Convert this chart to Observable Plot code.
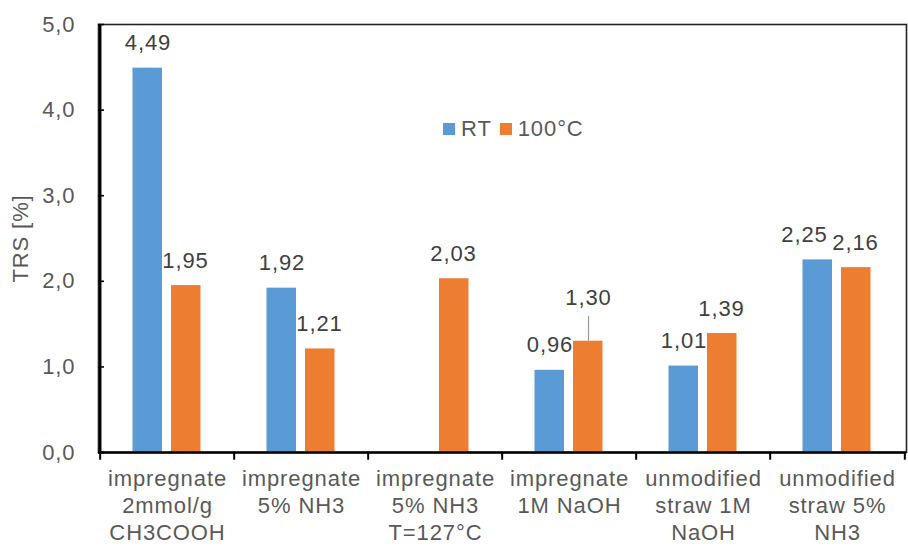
<!DOCTYPE html>
<html>
<head>
<meta charset="utf-8">
<script src="https://cdn.jsdelivr.net/npm/d3@7"></script>
<script src="https://cdn.jsdelivr.net/npm/@observablehq/plot@0.6"></script>
<style>
  html, body { margin: 0; padding: 0; background: #fff; }
  #wrap { position: relative; width: 908px; height: 547px; font-family: "Liberation Sans", Arial, sans-serif; }
  #wrap svg text { letter-spacing: 0.9px; }
  #legend { position: absolute; left: 443px; top: 116px; display: flex; align-items: center; font-size: 22px; color: #595959; letter-spacing: 0.9px; }
  #legend .sw { display: inline-block; width: 12px; height: 12px; margin-right: 6px; }
  #legend .item { display: flex; align-items: center; margin-right: 8px; }
</style>
</head>
<body>
<div id="wrap"></div>
<script>
const categories = [
  "impregnate\n2mmol/g\nCH3COOH",
  "impregnate\n5% NH3",
  "impregnate\n5% NH3\nT=127°C",
  "impregnate\n1M NaOH",
  "unmodified\nstraw 1M\nNaOH",
  "unmodified\nstraw 5%\nNH3"
];
const series = ["RT", "100°C"];
const rtValues = [4.49, 1.92, null, 0.96, 1.01, 2.25];
const hotValues = [1.95, 1.21, 2.03, 1.30, 1.39, 2.16];
const yTicks = [0, 1, 2, 3, 4, 5];
const colors = ["#5B9BD5", "#ED7D31"];

const W = 908, H = 547, mL = 98, mR = 2, mT = 24, mB = 95;
const bw = (W - mL - mR) / categories.length;

const rt = categories.map((c, i) => ({cat: c, series: series[0], value: rtValues[i]})).filter(d => d.value != null);
const hot = categories.map((c, i) => ({cat: c, series: series[1], value: hotValues[i]})).filter(d => d.value != null);
const fmt = v => v.toFixed(2).replace(".", ",");
const leaderCat = categories[3];
const shiftCat = categories[5];
const font = "'Liberation Sans', Arial, sans-serif";
const lab = {fontSize: 22, fill: "#404040", text: d => fmt(d.value), x: "cat", y: "value"};

const chart = Plot.plot({
  width: W, height: H,
  marginLeft: mL, marginRight: mR, marginTop: mT, marginBottom: mB,
  style: {fontFamily: font, background: "#fff"},
  x: {domain: categories, padding: 0, axis: null},
  y: {domain: [0, 5], axis: null},
  marks: [
    Plot.frame({stroke: "#222", strokeWidth: 1.6}),
    Plot.barY(rt, {x: "cat", y: "value", fill: colors[0], insetLeft: 32.5, insetRight: 72}),
    Plot.barY(hot, {x: "cat", y: "value", fill: colors[1], insetLeft: 71, insetRight: 33.5}),
    Plot.text(rt.filter(d => d.cat !== shiftCat), {...lab, dx: -19.5, dy: -25}),
    Plot.text(rt.filter(d => d.cat === shiftCat), {...lab, dx: -33, dy: -25}),
    Plot.text(hot.filter(d => d.cat !== leaderCat), {...lab, dx: 18, dy: -25}),
    Plot.text(hot.filter(d => d.cat === leaderCat), {...lab, dx: 19, dy: -43}),
    Plot.ruleX(hot.filter(d => d.cat === leaderCat), {x: "cat", y1: "value", y2: "value", dx: 19, insetTop: -25, stroke: "#999", strokeWidth: 1.2}),
    Plot.ruleX([categories[0]], {dx: -bw / 2, stroke: "#000", strokeWidth: 2.6}),
    Plot.ruleY([0], {stroke: "#000", strokeWidth: 2.4}),
    Plot.ruleX(categories, {dx: -bw / 2, y1: 0, y2: -0.09, stroke: "#000", strokeWidth: 2}),
    Plot.ruleX([categories[categories.length - 1]], {dx: bw / 2, y1: 0, y2: -0.09, stroke: "#000", strokeWidth: 2}),
    Plot.axisY({ticks: yTicks, tickSize: 6, dx: 6, tickFormat: () => "", stroke: "#000", strokeWidth: 1.6, label: null}),
    Plot.axisY({ticks: yTicks, tickSize: 0, tickPadding: 23, tickFormat: d => d.toFixed(1).replace(".", ","), fontSize: 22, fill: "#595959", label: "TRS [%]", labelAnchor: "center", labelOffset: 86, labelArrow: "none"}),
    Plot.text(categories, {x: d => d, y: 0, text: d => d, lineAnchor: "top", dy: 14, lineHeight: 1.23, fontSize: 22, fill: "#595959"})
  ]
});

const wrap = document.getElementById("wrap");
wrap.appendChild(chart);
const legend = document.createElement("div");
legend.id = "legend";
series.forEach((s, i) => {
  const item = document.createElement("span");
  item.className = "item";
  const sw = document.createElement("span");
  sw.className = "sw";
  sw.style.background = colors[i];
  item.appendChild(sw);
  item.appendChild(document.createTextNode(s));
  legend.appendChild(item);
});
wrap.appendChild(legend);
</script>
</body>
</html>
